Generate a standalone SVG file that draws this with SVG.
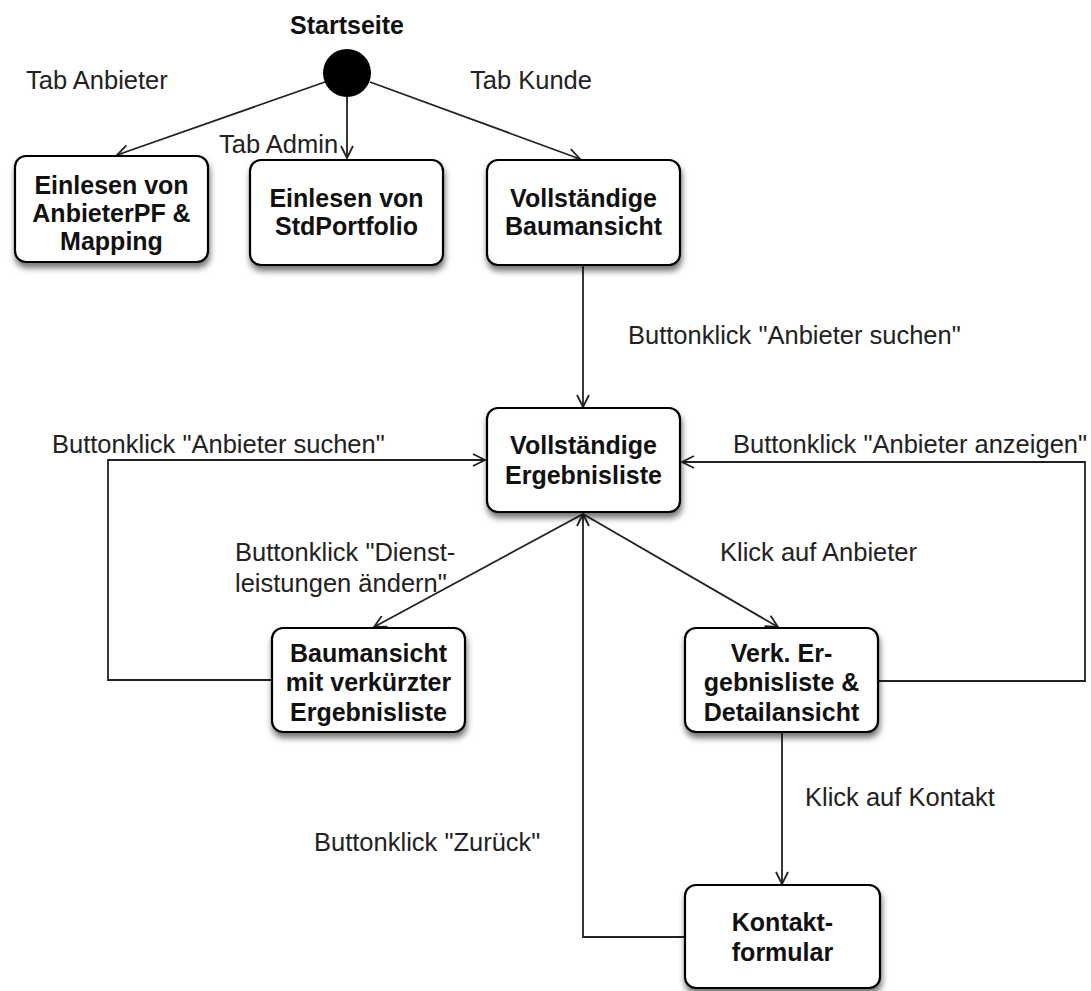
<svg xmlns="http://www.w3.org/2000/svg" width="1091" height="991" viewBox="0 0 1091 991">
<style>
.box{fill:#fff;stroke:#000;stroke-width:2.2;filter:url(#sh)}
.bt{font-family:"Liberation Sans",Arial,sans-serif;font-weight:bold;font-size:25px;text-anchor:middle;fill:#111}
.lb{font-family:"Liberation Sans",Arial,sans-serif;font-size:25.5px;fill:#222}
.ln{fill:none;stroke:#222;stroke-width:1.8;marker-end:url(#ah)}
</style>
<defs>
<filter id="sh" x="-20%" y="-20%" width="140%" height="150%">
<feDropShadow dx="1" dy="5" stdDeviation="3" flood-color="#000" flood-opacity="0.55"/>
</filter>
<marker id="ah" viewBox="0 0 14 14" refX="13" refY="7" markerWidth="14" markerHeight="14" markerUnits="userSpaceOnUse" orient="auto">
<path d="M1,1 L13,7 L1,13" fill="none" stroke="#222" stroke-width="1.8"/>
</marker>
</defs>
<rect width="1091" height="991" fill="#fff"/>
<g id="start">
<text class="bt" x="347" y="34">Startseite</text>
<ellipse cx="347" cy="73" rx="24" ry="24" fill="#000"/>
</g>
<g id="connectors">
<line class="ln" x1="325" y1="82" x2="117" y2="155"/>
<line class="ln" x1="347" y1="97" x2="347" y2="158"/>
<line class="ln" x1="370" y1="82" x2="580" y2="159"/>
<line class="ln" x1="583" y1="265" x2="583" y2="407"/>
<line class="ln" x1="583" y1="514" x2="374" y2="627"/>
<line class="ln" x1="583" y1="514" x2="778" y2="627"/>
<polyline class="ln" points="272,680 108,680 108,460 485,460"/>
<polyline class="ln" points="878,681 1085,681 1085,462 682,462"/>
<line class="ln" x1="782" y1="732" x2="782" y2="884"/>
<polyline class="ln" points="685,937 583,937 583,514"/>
</g>
<g id="labels">
<text class="lb" x="26" y="89">Tab Anbieter</text>
<text class="lb" x="470" y="89">Tab Kunde</text>
<text class="lb" x="219" y="153">Tab Admin</text>
<text class="lb" x="628" y="344">Buttonklick "Anbieter suchen"</text>
<text class="lb" x="52" y="453">Buttonklick "Anbieter suchen"</text>
<text class="lb" x="733" y="453">Buttonklick "Anbieter anzeigen"</text>
<text class="lb" x="235" y="561">Buttonklick "Dienst-</text>
<text class="lb" x="235" y="592">leistungen ändern"</text>
<text class="lb" x="720" y="561">Klick auf Anbieter</text>
<text class="lb" x="805" y="806">Klick auf Kontakt</text>
<text class="lb" x="314" y="851">Buttonklick "Zurück"</text>
</g>
<g id="n1">
<rect class="box" x="15" y="156" width="193" height="106" rx="11"/>
<text class="bt" x="111.5" y="194">Einlesen von</text>
<text class="bt" x="111.5" y="222">AnbieterPF &amp;</text>
<text class="bt" x="111.5" y="250">Mapping</text>
</g>
<g id="n2">
<rect class="box" x="250" y="160" width="193" height="105" rx="11"/>
<text class="bt" x="346.5" y="207">Einlesen von</text>
<text class="bt" x="346.5" y="235">StdPortfolio</text>
</g>
<g id="n3">
<rect class="box" x="487" y="160" width="193" height="105" rx="11"/>
<text class="bt" x="583.5" y="207">Vollständige</text>
<text class="bt" x="583.5" y="235">Baumansicht</text>
</g>
<g id="n4">
<rect class="box" x="487" y="408" width="193" height="104" rx="11"/>
<text class="bt" x="583.5" y="454">Vollständige</text>
<text class="bt" x="583.5" y="484">Ergebnisliste</text>
</g>
<g id="n5">
<rect class="box" x="272" y="628" width="193" height="104" rx="11"/>
<text class="bt" x="368.5" y="662">Baumansicht</text>
<text class="bt" x="368.5" y="691">mit verkürzter</text>
<text class="bt" x="368.5" y="721">Ergebnisliste</text>
</g>
<g id="n6">
<rect class="box" x="685" y="628" width="193" height="104" rx="11"/>
<text class="bt" x="781.5" y="662">Verk. Er-</text>
<text class="bt" x="781.5" y="691">gebnisliste &amp;</text>
<text class="bt" x="781.5" y="721">Detailansicht</text>
</g>
<g id="n7">
<rect class="box" x="685" y="885" width="195" height="103" rx="11"/>
<text class="bt" x="782.5" y="931">Kontakt-</text>
<text class="bt" x="782.5" y="961">formular</text>
</g>
</svg>
